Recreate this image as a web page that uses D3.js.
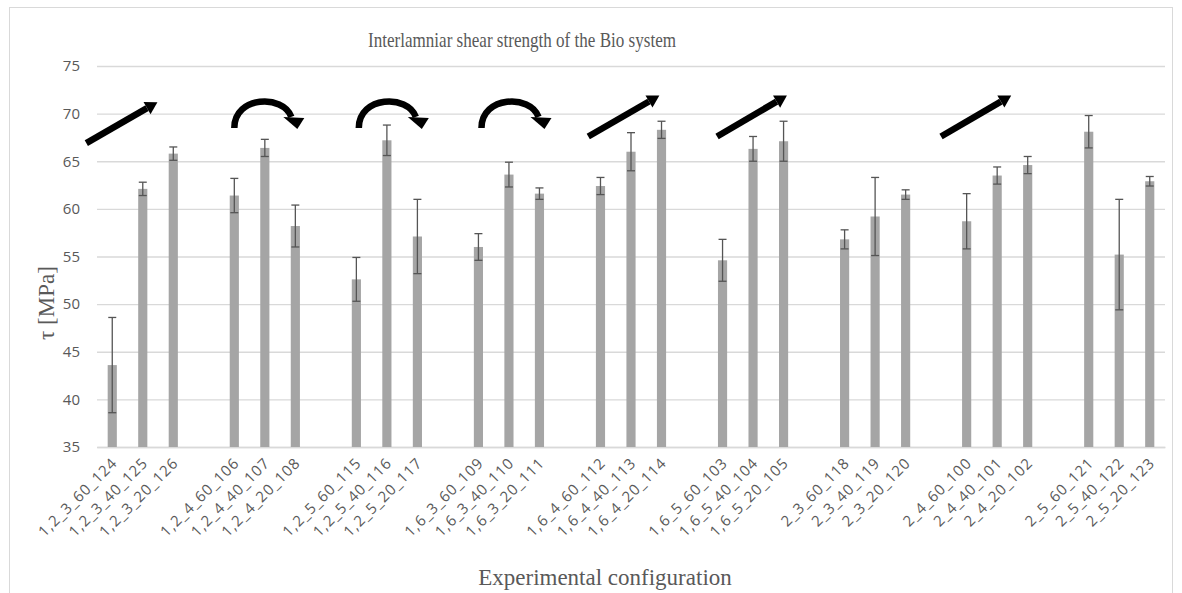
<!DOCTYPE html>
<html>
<head>
<meta charset="utf-8">
<script src="https://cdn.jsdelivr.net/npm/d3@7"></script>
<style>
  body { margin: 0; background: #fff; }
  .tick-x { font-family: "Open Sans", sans-serif; font-size: 15px; fill: #595959; letter-spacing: 1px; }
  .tick-y { font-family: "Open Sans", sans-serif; font-size: 15px; fill: #595959; }
  .serif { font-family: "Liberation Serif", "DejaVu Serif", serif; fill: #595959; }
</style>
</head>
<body>
<div id="chart"></div>
<script>
// configurations, 9 groups of 3
labels = [
  '1,2_3_60_124', '1,2_3_40_125', '1,2_3_20_126',
  '1,2_4_60_106', '1,2_4_40_107', '1,2_4_20_108',
  '1,2_5_60_115', '1,2_5_40_116', '1,2_5_20_117',
  '1,6_3_60_109', '1,6_3_40_110', '1,6_3_20_111',
  '1,6_4_60_112', '1,6_4_40_113', '1,6_4_20_114',
  '1,6_5_60_103', '1,6_5_40_104', '1,6_5_20_105',
  '2_3_60_118', '2_3_40_119', '2_3_20_120',
  '2_4_60_100', '2_4_40_101', '2_4_20_102',
  '2_5_60_121', '2_5_40_122', '2_5_20_123'
]

// mean shear strength [MPa]
means = [
  43.6, 62.1, 65.8,
  61.4, 66.4, 58.2,
  52.6, 67.2, 57.1,
  56.0, 63.6, 61.6,
  62.4, 66.0, 68.3,
  54.6, 66.3, 67.1,
  56.8, 59.2, 61.5,
  58.7, 63.5, 64.6,
  68.1, 55.2, 62.9
]

// standard deviation
errors = [
  5.0, 0.7, 0.7,
  1.8, 0.9, 2.2,
  2.3, 1.6, 3.9,
  1.4, 1.3, 0.6,
  0.9, 2.0, 0.9,
  2.2, 1.3, 2.1,
  1.0, 4.1, 0.5,
  2.9, 0.9, 0.9,
  1.7, 5.8, 0.5
]

yTicks = [35, 40, 45, 50, 55, 60, 65, 70, 75]

// trend arrows above the groups (slot = x position in bar units, v = MPa)
straightArrows = [
  {s0: -0.85, v0: 66.9, s1: 1.48, v1: 71.2},
  {s0: 15.6, v0: 67.6, s1: 17.93, v1: 71.9},
  {s0: 19.82, v0: 67.6, s1: 22.11, v1: 71.9},
  {s0: 27.16, v0: 67.6, s1: 29.46, v1: 71.9}
]
curvedArrows = [
  {s0: 4.0, v0: 68.5},
  {s0: 8.08, v0: 68.5},
  {s0: 12.1, v0: 68.5}
]

svgWidth = 1182
svgHeight = 593

margin = {top: 66, left: 97, right: 17, bottom: 146}
width = svgWidth - margin.left - margin.right
height = svgHeight - margin.top - margin.bottom

// slot keys with an empty slot between groups
slots = []
labels.forEach(function(l, i) {
  if (i > 0 && i % 3 == 0) slots.push('gap' + i)
  slots.push(l)
})

svg = d3.select('#chart').append('svg')
  .attr('width', svgWidth)
  .attr('height', svgHeight)

svg.append('rect')
  .attr('x', 9.5).attr('y', 7.5)
  .attr('width', 1163).attr('height', 620)
  .attr('fill', 'none')
  .attr('stroke', '#d9d9d9')

chartGroup = svg.append('g')
  .attr('transform', `translate(${margin.left},${margin.top})`)

xScale = d3.scaleBand()
  .domain(slots)
  .range([0, width])
  .paddingInner(0.7)
  .paddingOuter(0.35)

yScale = d3.scaleLinear()
  .domain([35, 75])
  .range([height, 0])

// slot index -> pixel (for annotations)
slotX = d3.scaleLinear()
  .domain([0, 1])
  .range([xScale(slots[0]) + xScale.bandwidth() / 2, xScale(slots[1]) + xScale.bandwidth() / 2])

// gridlines
chartGroup.append('g')
  .call(d3.axisLeft(yScale).tickValues(yTicks).tickSize(-width).tickFormat(''))
  .call(g => g.select('.domain').remove())
  .selectAll('line')
  .attr('stroke', '#d9d9d9')
  .attr('stroke-width', 1.3)

// y tick labels
chartGroup.append('g')
  .call(d3.axisLeft(yScale).tickValues(yTicks).tickSize(0).tickPadding(17))
  .call(g => g.select('.domain').remove())
  .selectAll('text')
  .attr('class', 'tick-y')
  .attr('fill', null)
  .attr('font-size', null)
  .attr('font-family', null)

// x tick labels
xAxis = chartGroup.append('g')
  .attr('transform', `translate(0,${height})`)
  .call(d3.axisBottom(xScale).tickSize(0).tickFormat(d => d.startsWith('gap') ? '' : d))
xAxis.select('.domain').attr('stroke', '#d9d9d9').attr('stroke-width', 1.3)
xAxis.selectAll('text')
  .attr('class', 'tick-x')
  .attr('fill', null)
  .attr('font-size', null)
  .attr('font-family', null)
  .attr('text-anchor', 'end')
  .attr('dy', null)
  .attr('y', 0)
  .attr('transform', 'translate(6,17) rotate(-45)')

data = labels.map((l, i) => ({label: l, mean: means[i], err: errors[i]}))

chartGroup.selectAll('rect.bar')
  .data(data)
  .enter()
  .append('rect')
  .attr('class', 'bar')
  .attr('x', d => xScale(d.label))
  .attr('y', d => yScale(d.mean))
  .attr('width', xScale.bandwidth())
  .attr('height', d => height - yScale(d.mean))
  .attr('fill', '#a5a5a5')

errGroup = chartGroup.selectAll('g.err')
  .data(data)
  .enter()
  .append('g')
  .attr('class', 'err')
  .attr('stroke', '#555')
  .attr('stroke-width', 1.3)

errGroup.append('line')
  .attr('x1', d => xScale(d.label) + xScale.bandwidth() / 2)
  .attr('x2', d => xScale(d.label) + xScale.bandwidth() / 2)
  .attr('y1', d => yScale(d.mean + d.err))
  .attr('y2', d => yScale(d.mean - d.err))
errGroup.append('line')
  .attr('x1', d => xScale(d.label) + xScale.bandwidth() / 2 - 4)
  .attr('x2', d => xScale(d.label) + xScale.bandwidth() / 2 + 4)
  .attr('y1', d => yScale(d.mean + d.err))
  .attr('y2', d => yScale(d.mean + d.err))
errGroup.append('line')
  .attr('x1', d => xScale(d.label) + xScale.bandwidth() / 2 - 4)
  .attr('x2', d => xScale(d.label) + xScale.bandwidth() / 2 + 4)
  .attr('y1', d => yScale(d.mean - d.err))
  .attr('y2', d => yScale(d.mean - d.err))

// straight arrows
straightArrows.forEach(function(a) {
  x0 = slotX(a.s0); y0 = yScale(a.v0)
  x1 = slotX(a.s1); y1 = yScale(a.v1)
  ang = Math.atan2(y1 - y0, x1 - x0)
  headL = 12, headW = 7
  bx = x1 - headL * Math.cos(ang), by = y1 - headL * Math.sin(ang)
  chartGroup.append('line')
    .attr('x1', x0).attr('y1', y0)
    .attr('x2', bx).attr('y2', by)
    .attr('stroke', '#000')
    .attr('stroke-width', 6.5)
  chartGroup.append('polygon')
    .attr('points', [
      [x1, y1],
      [bx + headW * Math.sin(ang), by - headW * Math.cos(ang)],
      [bx - headW * Math.sin(ang), by + headW * Math.cos(ang)]
    ].map(p => p.join(',')).join(' '))
    .attr('fill', '#000')
})

// curved arrows
curvedArrows.forEach(function(a) {
  x0 = slotX(a.s0); y0 = yScale(a.v0)
  chartGroup.append('path')
    .attr('d', `M${x0},${y0} C${x0},${y0 - 32} ${x0 + 49},${y0 - 34} ${x0 + 57},${y0 - 11}`)
    .attr('fill', 'none')
    .attr('stroke', '#000')
    .attr('stroke-width', 6.5)
  chartGroup.append('polygon')
    .attr('points', `${x0 + 63},${y0 + 1} ${x0 + 49},${y0 - 11} ${x0 + 70},${y0 - 10}`)
    .attr('fill', '#000')
})

// title
svg.append('text')
  .attr('class', 'serif')
  .attr('x', 522)
  .attr('y', 47)
  .attr('text-anchor', 'middle')
  .attr('textLength', 308)
  .attr('lengthAdjust', 'spacingAndGlyphs')
  .style('font-size', '21px')
  .text('Interlamniar shear strength of the Bio system')

// axis titles
svg.append('text')
  .attr('class', 'serif')
  .attr('transform', 'translate(54,303) rotate(-90)')
  .attr('text-anchor', 'middle')
  .style('font-size', '23px')
  .text('τ [MPa]')

svg.append('text')
  .attr('class', 'serif')
  .attr('x', 605)
  .attr('y', 585)
  .attr('text-anchor', 'middle')
  .style('font-size', '23px')
  .text('Experimental configuration')
</script>
</body>
</html>
